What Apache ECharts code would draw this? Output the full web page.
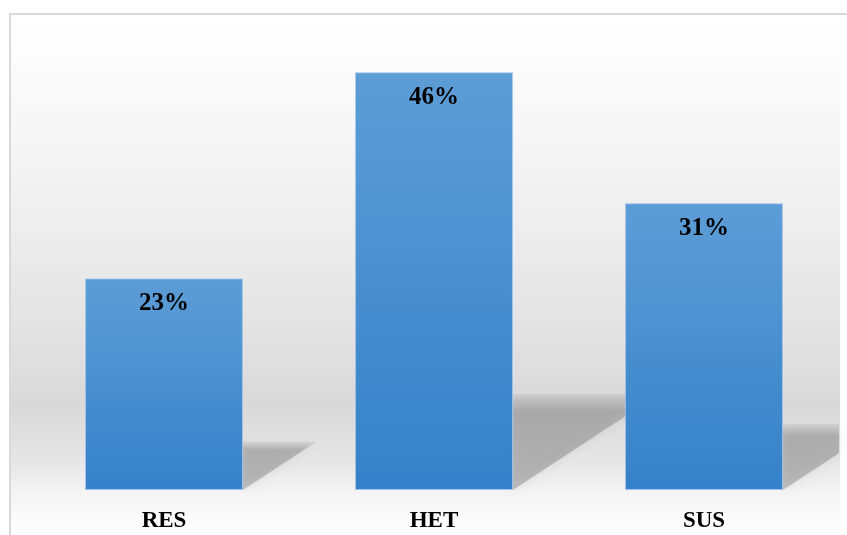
<!DOCTYPE html>
<html>
<head>
<meta charset="utf-8">
<script src="https://cdn.jsdelivr.net/npm/echarts@6/dist/echarts.min.js"></script>
<style>
  html, body { margin: 0; padding: 0; background: #fff; }
  #chart { width: 847px; height: 535px; }
</style>
</head>
<body>
<div id="chart"></div>
<script>
// data
const categories = ['RES', 'HET', 'SUS']
const values = [23.1, 45.6, 31.3]

const serif = 'Liberation Serif'

let chartDom = document.getElementById('chart')
let myChart = echarts.init(chartDom)

let option = {
  animation: false,
  graphic: [
    {
      type: 'rect',
      z: -10,
      shape: { x: 11, y: 15, width: 829, height: 520 },
      style: {
        fill: new echarts.graphic.LinearGradient(0, 0, 0, 1, [
          { offset: 0, color: '#ffffff' },
          { offset: 0.3, color: '#f3f3f3' },
          { offset: 0.6, color: '#e3e3e3' },
          { offset: 0.75, color: '#d9d9d9' },
          { offset: 0.86, color: '#e6e6e6' },
          { offset: 0.93, color: '#f6f6f6' },
          { offset: 1, color: '#ffffff' }
        ])
      }
    },
    {
      type: 'polyline',
      z: -5,
      shape: { points: [[10, 535], [10, 14], [847, 14]] },
      style: { stroke: '#d9d9d9', lineWidth: 2, fill: null }
    }
  ],
  grid: { left: 29, right: 8, top: 32, bottom: 45 },
  xAxis: {
    type: 'category',
    data: categories,
    axisLine: { show: false },
    axisTick: { show: false },
    axisLabel: {
      margin: 20,
      color: '#000',
      fontFamily: serif,
      fontWeight: 'bold',
      fontSize: 23
    }
  },
  yAxis: {
    type: 'value',
    min: 0,
    max: 50,
    show: false,
    splitLine: { show: false }
  },
  series: [
    {
      // perspective shadows behind the bars
      type: 'custom',
      z: 1,
      clip: false,
      data: values.map((v, i) => [i, v]),
      renderItem: function (params, api) {
        let base = api.coord([api.value(0), 0])
        let top = api.coord([api.value(0), api.value(1)])
        let bw = api.size([1, 0])[0] * 0.585
        let xr = base[0] + bw / 2
        let h = base[1] - top[1]
        let right = params.coordSys.x + params.coordSys.width
        let w = 0.35 * h
        let sh = 0.23 * h
        let w2 = Math.min(w, right - xr)
        // where the diagonal meets the clipped right edge
        let yCut = base[1] - sh * (w2 / w)
        return {
          type: 'polygon',
          shape: {
            points: [
              [xr, base[1]],
              [xr, base[1] - sh],
              [xr + w2, base[1] - sh],
              [xr + w2, yCut]
            ]
          },
          style: {
            fill: new echarts.graphic.LinearGradient(0, 0, 0, 1, [
              { offset: 0, color: 'rgba(120,120,120,0.1)' },
              { offset: 0.18, color: 'rgba(120,120,120,0.42)' },
              { offset: 1, color: 'rgba(120,120,120,0.42)' }
            ]),
            shadowBlur: 10,
            shadowColor: 'rgba(120,120,120,0.35)'
          }
        }
      }
    },
    {
      type: 'bar',
      z: 2,
      data: values,
      barWidth: '58.5%',
      itemStyle: {
        color: new echarts.graphic.LinearGradient(0, 0, 0, 1, [
          { offset: 0, color: '#5d9dd6' },
          { offset: 1, color: '#3581c9' }
        ]),
        borderColor: 'rgba(170,200,235,0.7)',
        borderWidth: 1
      },
      label: {
        show: true,
        position: 'insideTop',
        distance: 13,
        color: '#000',
        fontFamily: serif,
        fontWeight: 'bold',
        fontSize: 25,
        formatter: p => Math.round(p.value) + '%'
      }
    }
  ]
}

option && myChart.setOption(option)
</script>
</body>
</html>
